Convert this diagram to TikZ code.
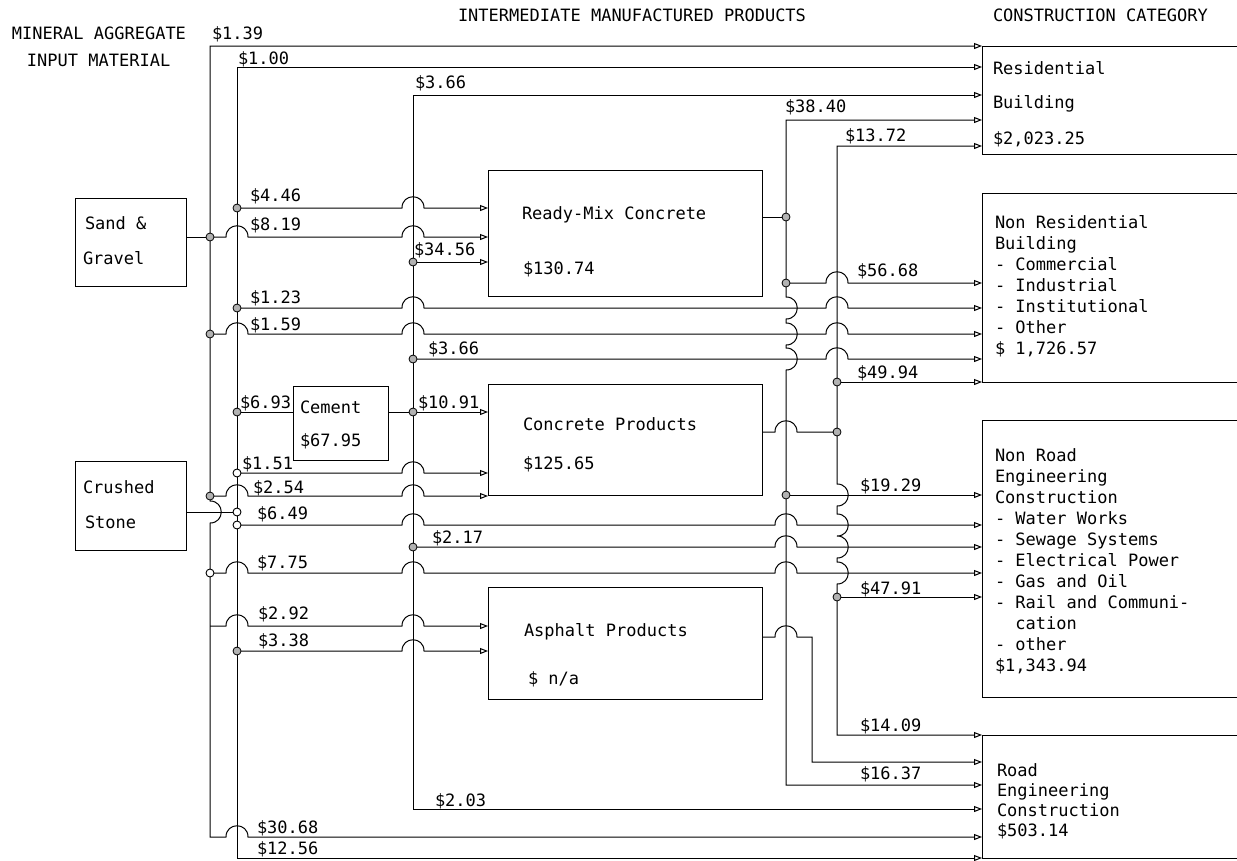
\documentclass[tikz,border=0pt]{standalone}
\usepackage{fontspec}
\newfontfamily\twfont{DejaVu Sans Mono}
\usetikzlibrary{arrows.meta}
\newcommand\hopH[2]{-- ({#1-11},#2) .. controls ({#1-11},{#2-15}) and ({#1+11},{#2-15}) .. ({#1+11},#2)}
\newcommand\hopV[2]{-- (#1,{#2-11}) .. controls ({#1+15},{#2-11}) and ({#1+15},{#2+11}) .. (#1,{#2+11})}
\begin{document}
\begin{tikzpicture}[x=1pt,y=-1pt,
  every node/.style={inner sep=0pt,outer sep=0pt},
  txt/.style={font=\twfont\fontsize{17}{20}\selectfont,anchor=base west},
  ln/.style={line width=1pt,black},
  >={Triangle[open,length=8pt,width=6pt]},
  arr/.style={ln,->},
  box/.style={draw,line width=1pt,anchor=north west},
  dot/.style={circle,draw,fill=gray!60,minimum size=8pt,line width=0.8pt},
  odot/.style={circle,draw,fill=white,minimum size=8pt,line width=0.9pt}]
\useasboundingbox (0,0) rectangle (1237,860);

% boxes
\node[box,minimum width=111pt,minimum height=88pt] (sg) at (75,198) {};
\node[box,minimum width=111pt,minimum height=89pt] (cs) at (75,461) {};
\node[box,minimum width=95pt,minimum height=74pt] (cem) at (293,386) {};
\node[box,minimum width=274pt,minimum height=126pt] (rmc) at (488,170) {};
\node[box,minimum width=274pt,minimum height=111pt] (cp) at (488,384) {};
\node[box,minimum width=274pt,minimum height=112pt] (ap) at (488,587) {};
\node[box,minimum width=262pt,minimum height=108pt] (res) at (982,46) {};
\node[box,minimum width=262pt,minimum height=189pt] (nres) at (982,193) {};
\node[box,minimum width=262pt,minimum height=277pt] (nroad) at (982,420) {};
\node[box,minimum width=262pt,minimum height=123pt] (road) at (982,735) {};

% buses
\draw[ln,<->] (res.north west) -- (210,46) \hopV{210}{512} -- (210,837) \hopH{237}{837} -- (road.west|-0,837);
\draw[ln,<->] (res.west|-0,67) -- (237,67) -- (237,858) -- (road.south west);
\draw[ln,<->] (res.west|-0,95) -- (413,95) -- (413,809) -- (road.west|-0,809);
\draw[ln,<->] (res.west|-0,120) -- (786,120) \hopV{786}{308} \hopV{786}{334} \hopV{786}{359} -- (786,785) -- (road.west|-0,785);
\draw[ln,<->] (res.west|-0,146) -- (837,146) \hopV{837}{495} \hopV{837}{525} \hopV{837}{547} \hopV{837}{573} -- (837,735) -- (road.north west);

% junction dots
\node[dot] (jA1) at (210,237) {};
\node[dot] (jA2) at (210,334) {};
\node[dot] (jA3) at (210,496) {};
\node[odot] (jA4) at (210,573) {};
\node[dot] (jB1) at (237,208) {};
\node[dot] (jB2) at (237,308) {};
\node[dot] (jB3) at (237,412) {};
\node[odot] (jB4) at (237,473) {};
\node[odot] (jB5) at (237,512) {};
\node[odot] (jB6) at (237,525) {};
\node[dot] (jB7) at (237,651) {};
\node[dot] (jC1) at (413,262) {};
\node[dot] (jC2) at (413,359) {};
\node[dot] (jC3) at (413,412) {};
\node[dot] (jC4) at (413,547) {};
\node[dot] (jD1) at (786,217) {};
\node[dot] (jD2) at (786,283) {};
\node[dot] (jD3) at (786,495) {};
\node[dot] (jE1) at (837,382) {};
\node[dot] (jE2) at (837,432) {};
\node[dot] (jE3) at (837,597) {};
\coordinate (tA) at (210,626);
\coordinate (apout) at (812,637);

% flows
\draw[ln] (sg.east|-jA1) -- (jA1);
\draw[ln] (cs.east|-jB5) -- (jB5);
\draw[arr] (jB1) \hopH{413}{208} -- (rmc.west|-jB1);
\draw[arr] (jA1) \hopH{237}{237} \hopH{413}{237} -- (rmc.west|-jA1);
\draw[arr] (jC1) -- (rmc.west|-jC1);
\draw[ln] (rmc.east|-jD1) -- (jD1);
\draw[arr] (jB2) \hopH{413}{308} \hopH{837}{308} -- (nres.west|-jB2);
\draw[arr] (jA2) \hopH{237}{334} \hopH{413}{334} \hopH{837}{334} -- (nres.west|-jA2);
\draw[arr] (jC2) \hopH{837}{359} -- (nres.west|-jC2);
\draw[arr] (jD2) \hopH{837}{283} -- (nres.west|-jD2);
\draw[arr] (jE1) -- (nres.south west);
\draw[ln] (jB3) -- (cem.west|-jB3);
\draw[ln] (cem.east|-jC3) -- (jC3);
\draw[arr] (jC3) -- (cp.west|-jC3);
\draw[arr] (jB4) \hopH{413}{473} -- (cp.west|-jB4);
\draw[arr] (jA3) \hopH{237}{496} \hopH{413}{496} -- (cp.west|-jA3);
\draw[ln] (cp.east|-jE2) \hopH{786}{432} -- (jE2);
\draw[arr] (jB6) \hopH{413}{525} \hopH{786}{525} -- (nroad.west|-jB6);
\draw[arr] (jC4) \hopH{786}{547} -- (nroad.west|-jC4);
\draw[arr] (jA4) \hopH{237}{573} \hopH{413}{573} \hopH{786}{573} -- (nroad.west|-jA4);
\draw[arr] (jD3) -- (nroad.west|-jD3);
\draw[arr] (jE3) -- (nroad.west|-jE3);
\draw[arr] (tA) \hopH{237}{626} \hopH{413}{626} -- (ap.west|-tA);
\draw[arr] (jB7) \hopH{413}{651} -- (ap.west|-jB7);
\draw[arr] (ap.east|-apout) \hopH{786}{637} -- (apout) -- (812,762) -- (road.west|-0,762);

% headers
\node[txt] (h1) at (12,39) {MINERAL AGGREGATE};
\node[txt] (h2) at (27,66) {INPUT MATERIAL};
\node[txt] (h3) at (458,21) {INTERMEDIATE MANUFACTURED PRODUCTS};
\node[txt] (h4) at (993,21) {CONSTRUCTION CATEGORY};

% flow labels
\node[txt] (l01) at (212,39) {\$1.39};
\node[txt] (l02) at (238,64) {\$1.00};
\node[txt] (l03) at (415,88) {\$3.66};
\node[txt] (l04) at (785,112) {\$38.40};
\node[txt] (l05) at (845,141) {\$13.72};
\node[txt] (l06) at (250,201) {\$4.46};
\node[txt] (l07) at (250,230) {\$8.19};
\node[txt] (l08) at (414,255) {\$34.56};
\node[txt] (l09) at (250,303) {\$1.23};
\node[txt] (l10) at (250,330) {\$1.59};
\node[txt] (l11) at (428,354) {\$3.66};
\node[txt] (l12) at (857,276) {\$56.68};
\node[txt] (l13) at (857,378) {\$49.94};
\node[txt] (l14) at (240,408) {\$6.93};
\node[txt] (l15) at (418,408) {\$10.91};
\node[txt] (l16) at (242,469) {\$1.51};
\node[txt] (l17) at (253,493) {\$2.54};
\node[txt] (l18) at (257,519) {\$6.49};
\node[txt] (l19) at (432,543) {\$2.17};
\node[txt] (l20) at (257,568) {\$7.75};
\node[txt] (l21) at (860,491) {\$19.29};
\node[txt] (l22) at (860,594) {\$47.91};
\node[txt] (l23) at (258,619) {\$2.92};
\node[txt] (l24) at (258,646) {\$3.38};
\node[txt] (l25) at (860,731) {\$14.09};
\node[txt] (l26) at (860,779) {\$16.37};
\node[txt] (l27) at (435,806) {\$2.03};
\node[txt] (l28) at (257,833) {\$30.68};
\node[txt] (l29) at (257,854) {\$12.56};

% box texts
\node[txt] (sg1) at (85,229) {Sand \&};
\node[txt] (sg2) at (83,264) {Gravel};
\node[txt] (cs1) at (83,493) {Crushed};
\node[txt] (cs2) at (85,528) {Stone};
\node[txt] (ce1) at (300,413) {Cement};
\node[txt] (ce2) at (300,446) {\$67.95};
\node[txt] (rm1) at (522,219) {Ready-Mix Concrete};
\node[txt] (rm2) at (523,274) {\$130.74};
\node[txt] (cp1) at (523,430) {Concrete Products};
\node[txt] (cp2) at (523,469) {\$125.65};
\node[txt] (ap1) at (524,636) {Asphalt Products};
\node[txt] (ap2) at (528,684) {\$ n/a};
\node[txt] (rs1) at (993,74) {Residential};
\node[txt] (rs2) at (993,108) {Building};
\node[txt] (rs3) at (993,144) {\$2,023.25};
\foreach \t [count=\i] in {Non Residential,Building,- Commercial,- Industrial,- Institutional,- Other,{\$ 1,726.57}}
  \node[txt] (nr\i) at (995,{207+21*\i}) {\t};
\foreach \t [count=\i] in {Non Road,Engineering,Construction,- Water Works,- Sewage Systems,- Electrical Power,- Gas and Oil,- Rail and Communi-,\phantom{- }cation,- other,{\$1,343.94}}
  \node[txt] (no\i) at (995,{440+21*\i}) {\t};
\foreach \t [count=\i] in {Road,Engineering,Construction,\$503.14}
  \node[txt] (ro\i) at (997,{756+20*\i}) {\t};
\end{tikzpicture}
\end{document}
